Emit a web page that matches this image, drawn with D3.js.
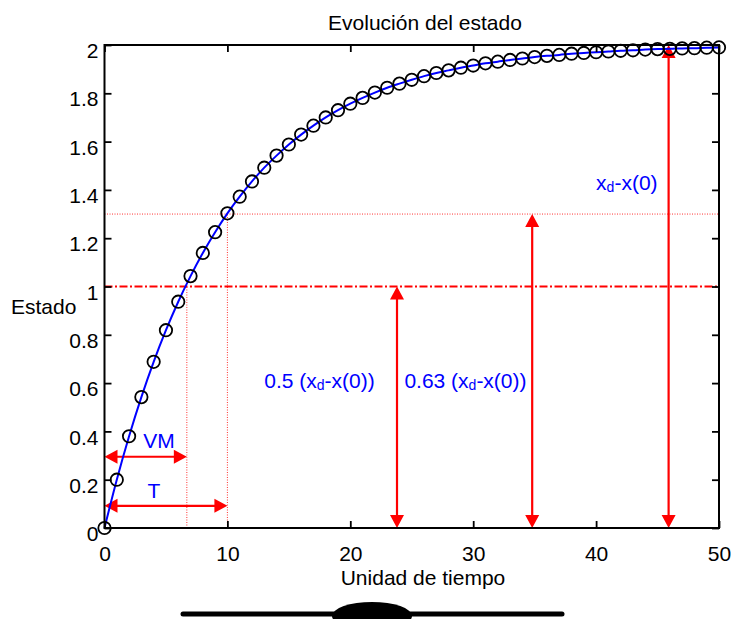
<!DOCTYPE html>
<html><head><meta charset="utf-8">
<script src="https://cdn.jsdelivr.net/npm/d3@7"></script>
<style>
body{margin:0;background:#fff}
svg{display:block}
text{font-family:"Liberation Sans",Arial,Helvetica,sans-serif}
</style>
</head><body>
<svg id="c" width="733" height="619"></svg>
<script>
// ---- data ----
const times = [0,1,2,3,4,5,6,7,8,9,10,11,12,13,14,15,16,17,18,19,20,21,22,23,24,25,26,27,28,29,30,31,32,33,34,35,36,37,38,39,40,41,42,43,44,45,46,47,48,49,50];
const state = [0,0.2,0.38,0.542,0.688,0.819,0.937,1.043,1.139,1.225,1.303,1.372,1.435,1.492,1.542,1.588,1.629,1.666,1.700,1.730,1.757,1.781,1.803,1.823,1.840,1.856,1.871,1.884,1.895,1.906,1.915,1.924,1.931,1.938,1.944,1.950,1.955,1.959,1.964,1.967,1.970,1.973,1.976,1.978,1.981,1.983,1.984,1.986,1.987,1.989,1.990];
const xTicks = [0,10,20,30,40,50];
const yTicks = [0,0.2,0.4,0.6,0.8,1,1.2,1.4,1.6,1.8,2];
const yTickLabels = ["0","0.2","0.4","0.6","0.8","1","1.2","1.4","1.6","1.8","2"];
const halfLevel = 1;        // 0.5 (xd - x(0))
const tauLevel = 1.3;       // 0.63 (xd - x(0))
const vmTime = 6.7;         // VM
const tauTime = 10;         // T
const vmArrowY = 0.295;
const tArrowY = 0.092;
const vArrowTimes = [23.8, 34.8, 45.9];
const vArrowTops = [1, 1.3, 2];
const vLabels = [
  {pre:"0.5 (x", sub:"d", post:"-x(0))", t:13.0, v:0.58},
  {pre:"0.63 (x", sub:"d", post:"-x(0))", t:24.4, v:0.58},
  {pre:"x", sub:"d", post:"-x(0)", t:40.0, v:1.4}
];

// ---- layout ----
const svg = d3.select("#c");
const x = d3.scaleLinear().domain([0,50]).range([104.5,719]);
const y = d3.scaleLinear().domain([0,2]).range([528,45]);
const font = 21;
const red = "#ff0000", blue = "#0000ff";

// reference lines
svg.append("line").attr("x1",x(0)).attr("x2",x(50)).attr("y1",y(tauLevel)).attr("y2",y(tauLevel))
  .attr("stroke",red).attr("stroke-width",1).attr("stroke-dasharray","1,1.5").attr("opacity",0.8);
svg.append("line").attr("x1",x(vmTime)).attr("x2",x(vmTime)).attr("y1",y(0)).attr("y2",y(halfLevel))
  .attr("stroke",red).attr("stroke-width",1).attr("stroke-dasharray","1,1.5").attr("opacity",0.8);
svg.append("line").attr("x1",x(tauTime)).attr("x2",x(tauTime)).attr("y1",y(0)).attr("y2",y(tauLevel))
  .attr("stroke",red).attr("stroke-width",1).attr("stroke-dasharray","1,1.5").attr("opacity",0.8);
svg.append("line").attr("x1",x(0)).attr("x2",x(50)).attr("y1",y(halfLevel)).attr("y2",y(halfLevel))
  .attr("stroke",red).attr("stroke-width",2).attr("stroke-dasharray","8,2.5,2,2.5");

// arrows
const AL = 13, AW = 7;
function hArrow(x1, x2, yy){
  svg.append("line").attr("x1",x1+AL-2).attr("x2",x2-AL+2).attr("y1",yy).attr("y2",yy)
    .attr("stroke",red).attr("stroke-width",2.2);
  svg.append("path").attr("fill",red)
    .attr("d",`M${x1},${yy}L${x1+AL},${yy-AW}L${x1+AL},${yy+AW}Z M${x2},${yy}L${x2-AL},${yy-AW}L${x2-AL},${yy+AW}Z`);
}
function vArrow(xx, y1, y2){ // y1 bottom (larger px), y2 top
  svg.append("line").attr("x1",xx).attr("x2",xx).attr("y1",y1-AL+2).attr("y2",y2+AL-2)
    .attr("stroke",red).attr("stroke-width",2.2);
  svg.append("path").attr("fill",red)
    .attr("d",`M${xx},${y1}L${xx-AW},${y1-AL}L${xx+AW},${y1-AL}Z M${xx},${y2}L${xx-AW},${y2+AL}L${xx+AW},${y2+AL}Z`);
}
hArrow(x(0), x(vmTime), y(vmArrowY));
hArrow(x(0), x(tauTime), y(tArrowY));
vArrowTimes.forEach((t,i)=>vArrow(x(t), y(0), y(vArrowTops[i])));

// curve and markers
const pts = times.map((t,i)=>[t,state[i]]);
svg.append("path").datum(pts).attr("fill","none").attr("stroke",blue).attr("stroke-width",2)
  .attr("d", d3.line().x(d=>x(d[0])).y(d=>y(d[1])).curve(d3.curveMonotoneX));
svg.append("g").selectAll("circle").data(pts).join("circle")
  .attr("cx",d=>x(d[0])).attr("cy",d=>y(d[1])).attr("r",6.2)
  .attr("fill","none").attr("stroke","#000").attr("stroke-width",1.8);

// axes box
svg.append("rect").attr("x",x(0)).attr("y",y(2)).attr("width",x(50)-x(0)).attr("height",y(0)-y(2))
  .attr("fill","none").attr("stroke","#000").attr("stroke-width",2);

function styleAxis(g){
  g.select(".domain").remove();
  g.selectAll(".tick line").attr("stroke","#000").attr("stroke-width",1.8);
  g.selectAll("text").attr("font-size",font).attr("fill","#000").style("font-family",'"Liberation Sans",Arial,sans-serif');
}
svg.append("g").attr("transform",`translate(0,${y(0)})`)
  .call(d3.axisBottom(x).tickValues(xTicks).tickSize(-7).tickPadding(18).tickFormat(d3.format("d")))
  .call(styleAxis);
svg.append("g").attr("transform",`translate(0,${y(2)})`)
  .call(d3.axisTop(x).tickValues(xTicks).tickSize(-7).tickFormat(""))
  .call(styleAxis);
svg.append("g").attr("transform",`translate(${x(0)},0)`)
  .call(d3.axisLeft(y).tickValues(yTicks).tickSize(-7).tickPadding(6).tickFormat((d,i)=>yTickLabels[i]))
  .call(styleAxis)
  .call(g=>g.selectAll("text").attr("dy","0.6em"));
svg.append("g").attr("transform",`translate(${x(50)},0)`)
  .call(d3.axisRight(y).tickValues(yTicks).tickSize(-7).tickFormat(""))
  .call(styleAxis);

// text annotations
vLabels.forEach(l=>{
  const t = svg.append("text").attr("x",x(l.t)).attr("y",y(l.v)).attr("fill",blue).attr("font-size",font);
  t.append("tspan").text(l.pre);
  t.append("tspan").text(l.sub).attr("font-size",14).attr("dy",2);
  t.append("tspan").text(l.post).attr("dy",-2);
});
svg.append("text").attr("x",159).attr("y",y(vmArrowY)-9).attr("text-anchor","middle")
  .attr("fill",blue).attr("font-size",font).text("VM");
svg.append("text").attr("x",154).attr("y",y(tArrowY)-8).attr("text-anchor","middle")
  .attr("fill",blue).attr("font-size",font).text("T");

// titles
svg.append("text").attr("x",425).attr("y",30).attr("text-anchor","middle").attr("font-size",font).text("Evolución del estado");
svg.append("text").attr("x",423).attr("y",585).attr("text-anchor","middle").attr("font-size",font).text("Unidad de tiempo");
svg.append("text").attr("x",11).attr("y",314).attr("font-size",font).text("Estado");

// decorative shape at bottom
svg.append("line").attr("x1",183).attr("x2",562).attr("y1",614).attr("y2",614)
  .attr("stroke","#000").attr("stroke-width",5).attr("stroke-linecap","round");
svg.append("ellipse").attr("cx",372).attr("cy",616).attr("rx",40).attr("ry",14).attr("fill","#000");
</script>
</body></html>
